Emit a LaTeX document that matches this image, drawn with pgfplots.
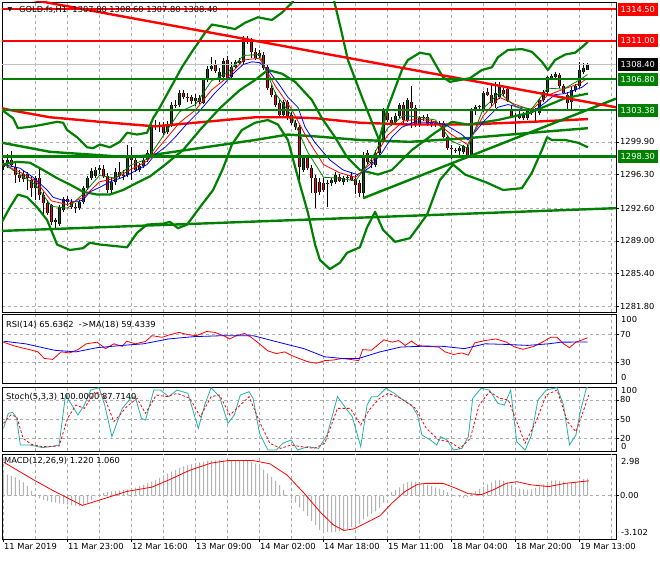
\documentclass[border=0pt]{standalone}
\usepackage{pgfplots}
\pgfplotsset{compat=1.18}
\usepackage{pgfplotstable}
\usepackage{fontspec}
\setmainfont{DejaVu Sans}

\definecolor{mtgreen}{RGB}{0,128,0}
\definecolor{mtred}{RGB}{255,0,0}
\definecolor{mtblue}{RGB}{0,0,255}
\definecolor{mtteal}{RGB}{32,178,170}
\definecolor{gridgray}{RGB}{172,172,172}
\definecolor{histgray}{RGB}{178,178,178}
\definecolor{pricegray}{RGB}{192,192,192}
\definecolor{bullbody}{RGB}{0,100,0}

\newcommand\lbl{\fontsize{8.3}{10}\selectfont}

% GOLD.fs H1 candles: bar index, open, high, low, close
\pgfplotstableread{
i o h l c
0 1297.1 1297.9 1296.8 1297.5
1 1297.5 1298.6 1297.0 1297.9
2 1297.9 1298.9 1297.1 1297.4
3 1297.1 1297.6 1295.4 1296.3
4 1296.3 1296.8 1295.5 1295.9
5 1296.4 1296.8 1295.5 1295.8
6 1295.9 1296.6 1294.6 1296.4
7 1295.7 1296.1 1293.8 1294.8
8 1294.8 1296.1 1293.5 1295.9
9 1295.9 1297.0 1293.5 1294.1
10 1294.1 1294.4 1291.6 1293.2
11 1293.2 1293.5 1291.9 1292.1
12 1293.0 1293.1 1290.8 1291.1
13 1291.1 1291.5 1290.3 1291.3
14 1290.9 1293.0 1290.6 1292.7
15 1292.4 1293.8 1292.2 1293.6
16 1293.6 1293.9 1292.8 1293.3
17 1293.3 1293.6 1292.5 1292.7
18 1292.7 1293.2 1292.1 1292.6
19 1292.6 1293.5 1292.4 1293.3
20 1293.3 1295.0 1293.1 1294.8
21 1294.8 1296.1 1294.6 1295.9
22 1295.9 1297.0 1295.7 1296.7
23 1296.1 1297.1 1295.9 1296.8
24 1296.8 1297.4 1296.4 1297.0
25 1296.9 1297.4 1295.9 1296.1
26 1296.1 1296.5 1294.3 1294.6
27 1294.6 1295.9 1294.3 1295.5
28 1295.5 1297.0 1295.2 1296.6
29 1296.6 1297.7 1295.9 1296.1
30 1296.1 1296.8 1295.7 1296.3
31 1296.3 1299.6 1296.0 1298.3
32 1298.5 1299.3 1295.7 1297.9
33 1297.9 1298.2 1296.6 1296.8
34 1296.8 1297.6 1296.6 1297.2
35 1297.2 1298.2 1297.0 1297.9
36 1297.9 1299.0 1297.7 1298.7
37 1298.5 1302.1 1298.3 1301.8
38 1301.8 1302.3 1301.2 1301.6
39 1301.6 1302.1 1301.0 1301.5
40 1301.6 1302.1 1300.7 1300.9
41 1301.0 1302.2 1300.8 1301.9
42 1301.8 1304.3 1301.5 1304.0
43 1304.0 1304.5 1303.6 1303.9
44 1304.0 1305.6 1303.7 1305.3
45 1305.3 1305.6 1304.6 1304.8
46 1304.8 1305.3 1304.3 1304.7
47 1304.8 1305.1 1304.1 1304.4
48 1304.4 1305.2 1303.8 1304.7
49 1304.7 1305.1 1304.1 1304.3
50 1304.2 1306.9 1304.1 1306.7
51 1306.7 1308.2 1306.5 1307.9
52 1307.9 1309.2 1307.7 1308.2
53 1308.4 1308.9 1307.5 1307.7
54 1306.7 1308.0 1306.5 1307.6
55 1307.0 1309.1 1306.7 1308.8
56 1308.9 1309.3 1306.8 1306.9
57 1307.0 1308.7 1306.8 1308.1
58 1308.1 1308.9 1307.9 1308.7
59 1308.6 1309.1 1308.4 1308.8
60 1308.7 1311.5 1308.5 1311.2
61 1311.1 1311.5 1310.7 1311.2
62 1311.1 1311.3 1309.1 1309.8
63 1309.8 1310.2 1308.9 1309.1
64 1309.7 1310.0 1309.1 1309.3
65 1309.5 1309.8 1307.8 1308.0
66 1308.1 1308.4 1305.6 1305.8
67 1305.8 1306.2 1304.8 1305.1
68 1305.1 1305.4 1303.7 1304.0
69 1304.2 1304.5 1302.6 1302.9
70 1302.9 1304.5 1302.6 1304.3
71 1304.3 1304.5 1302.3 1302.5
72 1302.9 1303.2 1301.8 1302.0
73 1302.0 1302.3 1301.2 1301.5
74 1301.5 1301.8 1295.7 1297.1
75 1296.8 1298.3 1296.6 1298.1
76 1298.1 1298.5 1296.8 1297.0
77 1297.0 1297.4 1294.3 1295.9
78 1295.9 1296.3 1292.6 1294.3
79 1295.5 1295.9 1294.1 1294.4
80 1295.4 1295.9 1294.4 1294.6
81 1295.3 1295.7 1292.7 1295.4
82 1295.4 1295.9 1295.0 1295.7
83 1295.5 1296.6 1295.3 1296.3
84 1296.0 1296.4 1295.5 1295.6
85 1295.5 1296.1 1295.2 1295.9
86 1295.9 1296.3 1295.5 1296.0
87 1296.1 1296.6 1295.6 1295.7
88 1295.8 1296.3 1294.2 1295.2
89 1295.4 1295.7 1293.8 1294.3
90 1294.3 1298.8 1293.7 1298.5
91 1298.7 1299.0 1297.4 1297.7
92 1297.7 1298.1 1297.0 1297.6
93 1297.4 1299.0 1297.1 1298.7
94 1298.7 1300.3 1298.3 1300.1
95 1300.1 1303.6 1299.9 1303.4
96 1303.1 1303.4 1302.1 1302.3
97 1302.3 1302.6 1301.6 1302.0
98 1302.1 1303.1 1301.9 1302.7
99 1302.7 1304.2 1302.5 1304.0
100 1304.0 1304.3 1301.8 1302.3
101 1302.3 1304.7 1302.1 1304.5
102 1304.3 1306.0 1301.4 1303.6
103 1303.6 1304.0 1301.5 1301.8
104 1301.8 1302.7 1301.5 1302.5
105 1302.5 1302.9 1302.2 1302.6
106 1302.6 1303.0 1301.6 1301.8
107 1301.9 1302.3 1301.5 1302.1
108 1302.0 1302.2 1301.5 1301.9
109 1301.9 1302.2 1301.6 1302.0
110 1302.0 1302.2 1300.3 1300.4
111 1300.4 1300.7 1299.0 1299.2
112 1299.2 1299.6 1298.0 1299.1
113 1299.0 1299.2 1298.7 1298.9
114 1298.9 1299.4 1298.5 1299.2
115 1298.8 1299.6 1298.6 1299.4
116 1299.3 1299.6 1298.1 1298.3
117 1298.3 1303.6 1298.1 1303.4
118 1303.3 1304.0 1302.9 1303.7
119 1303.7 1304.0 1303.5 1303.8
120 1303.4 1305.5 1303.2 1305.3
121 1305.4 1305.8 1304.9 1305.1
122 1305.1 1306.2 1303.8 1304.2
123 1304.2 1306.5 1303.6 1305.3
124 1304.8 1306.5 1304.6 1306.2
125 1305.6 1305.8 1304.9 1305.2
126 1305.7 1306.0 1304.3 1304.5
127 1303.4 1304.0 1302.5 1302.6
128 1302.7 1303.1 1300.7 1302.6
129 1303.0 1303.4 1302.4 1302.5
130 1302.5 1303.2 1302.3 1303.0
131 1302.5 1303.6 1302.3 1303.4
132 1303.1 1303.6 1302.9 1303.4
133 1303.3 1303.6 1302.0 1303.4
134 1303.1 1304.7 1302.9 1304.5
135 1304.5 1305.6 1304.3 1305.4
136 1305.4 1307.1 1305.2 1307.0
137 1306.9 1307.4 1306.7 1307.1
138 1307.0 1307.6 1306.8 1307.4
139 1307.3 1307.5 1305.8 1306.0
140 1306.0 1306.3 1305.2 1305.3
141 1305.1 1305.4 1303.4 1304.2
142 1304.3 1306.0 1303.4 1305.6
143 1305.6 1306.3 1305.4 1306.0
144 1306.0 1308.7 1305.8 1307.8
145 1307.6 1308.6 1307.4 1308.0
146 1307.8 1308.6 1307.8 1308.4
}\candles

\pgfplotsset{
  mtpanel/.style={
    scale only axis, width=614pt,
    xmin=-0.375, xmax=153.125,
    axis line style={black, line width=0.8pt},
    xtick={8,16,...,152}, xticklabels={}, xtick style={draw=none},
    xmajorgrids, ymajorgrids,
    grid style={draw=gridgray, line width=0.5pt, dash pattern=on 3pt off 3pt},
    ytick pos=right, yticklabel pos=right, xtick pos=bottom,
    tick align=outside, major tick length=3pt,
    ytick style={black, line width=0.6pt},
    yticklabel style={font=\lbl, inner sep=1pt},
    /pgf/number format/assume math mode=true,
    clip mode=individual,
  },
  candle/.style={draw=none, forget plot,
    error bars/y dir=plus, error bars/y explicit, error bars/error mark=none},
}

\begin{document}
\begin{tikzpicture}
\useasboundingbox (0,0) rectangle (660pt,560pt);
\fill[white] (0,0) rectangle (660pt,560pt);

% ---------------- price panel ----------------
\begin{axis}[mtpanel, at={(2pt,248pt)}, anchor=south west, height=310pt,
  ymin=1281.18, ymax=1315.28,
  ytick={1281.8,1285.4,1289.0,1292.6,1296.3,1299.9},
  yticklabels={1281.80,1285.40,1289.00,1292.60,1296.30,1299.90}]

% wicks
\addplot[candle, error bars/error bar style={draw=black, line width=0.9pt}]
  table[x=i, y=l, y error plus expr={\thisrow{h}-\thisrow{l}}] {\candles};
% bull bodies
\addplot[candle, x filter/.expression={\thisrow{c}<\thisrow{o} ? nan : x},
  error bars/error bar style={draw=black, line width=3.2pt}]
  table[x=i, y=o, y error plus expr={\thisrow{c}-\thisrow{o}}] {\candles};
\addplot[candle, x filter/.expression={\thisrow{c}<\thisrow{o} ? nan : x},
  error bars/error bar style={draw=bullbody, line width=1.5pt}]
  table[x=i, y=o, y error plus expr={\thisrow{c}-\thisrow{o}}] {\candles};
% bear bodies
\addplot[candle, x filter/.expression={\thisrow{c}<\thisrow{o} ? x : nan},
  error bars/error bar style={draw=black, line width=3.2pt}]
  table[x=i, y=c, y error plus expr={\thisrow{o}-\thisrow{c}}] {\candles};
\addplot[candle, x filter/.expression={\thisrow{c}<\thisrow{o} ? x : nan},
  error bars/error bar style={draw=mtred, line width=1.5pt}]
  table[x=i, y=c, y error plus expr={\thisrow{o}-\thisrow{c}}] {\candles};

% current price line
\addplot[pricegray, line width=0.8pt] coordinates {(-0.375,1308.4) (153.125,1308.4)};

% slow moving averages
\addplot[mtred, line width=2.4pt] coordinates {
(-0.375,1303.6) (1.6,1303.4) (11.6,1302.6) (24.1,1302.1) (37.9,1301.6) (50.4,1302.1)
(62.9,1302.6) (71.1,1302.6) (77.9,1302.5) (89.1,1302.0) (101.6,1301.8) (115.9,1301.8)
(132.1,1302.1) (146.1,1302.4)};
\addplot[mtgreen, line width=2.4pt] coordinates {
(-0.375,1299.8) (11.6,1298.8) (21.6,1298.5) (31.6,1298.2) (37.9,1298.5) (50.4,1299.3)
(62.9,1300.1) (71.1,1300.7) (77.9,1300.5) (89.1,1300.1) (101.6,1299.9) (115.9,1300.3)
(132.1,1300.9) (146.1,1301.4)};

% Bollinger bands
\addplot[mtgreen, line width=2.2pt, line join=round] coordinates {
(-0.375,1303.4) (2.4,1302.5) (3.6,1301.4) (7.4,1301.6) (9.9,1301.8) (13.4,1302.1)
(14.9,1302.0) (15.9,1301.2) (18.4,1300.4) (20.9,1299.3) (22.4,1299.2) (24.1,1299.6)
(26.6,1299.3) (29.1,1299.9) (30.9,1300.9) (33.4,1300.7) (35.9,1300.9) (37.4,1302.5)
(39.1,1303.7) (41.1,1305.3) (44.6,1308.1) (47.1,1309.8) (50.4,1311.9) (52.1,1312.8)
(54.6,1312.6) (57.9,1312.3) (60.4,1313.0) (63.6,1313.6) (67.1,1313.3) (69.6,1314.1)
(72.1,1315.2) (74.1,1316.6) (77.1,1317.9) (80.1,1317.5) (82.6,1315.5) (84.4,1312.2)
(86.1,1308.9) (89.9,1304.5) (93.9,1300.1) (96.1,1303.7) (99.6,1307.8) (101.1,1308.9)
(104.1,1309.7) (106.6,1309.5) (108.4,1308.1) (109.9,1307.0) (111.6,1306.5) (114.1,1306.7)
(116.6,1306.9) (119.6,1307.8) (122.1,1308.1) (123.6,1309.2) (126.1,1310.0) (129.6,1310.1)
(132.1,1309.8) (134.6,1308.7) (136.1,1307.8) (137.9,1308.9) (140.4,1309.5) (142.9,1309.7)
(144.6,1310.3) (146.1,1310.9)};
\addplot[mtgreen, line width=2.2pt, line join=round] coordinates {
(-0.375,1297.4) (3.4,1297.7) (6.6,1297.6) (9.9,1296.8) (13.4,1295.9) (16.6,1295.2)
(19.9,1294.4) (23.4,1294.1) (26.6,1294.1) (29.9,1294.6) (33.4,1295.4) (36.6,1296.1)
(39.9,1297.2) (44.9,1299.0) (49.1,1301.2) (54.1,1303.6) (59.1,1305.6) (62.9,1306.7)
(66.1,1307.8) (69.6,1307.4) (72.9,1306.5) (77.1,1304.5) (79.6,1302.5) (82.9,1300.4)
(85.9,1298.2) (89.1,1296.8) (93.6,1296.3) (97.1,1296.8) (102.1,1299.0) (107.9,1300.9)
(112.1,1302.1) (116.1,1301.8) (123.6,1302.3) (131.6,1303.1) (140.4,1304.7) (146.1,1305.2)};
\addplot[mtgreen, line width=2.2pt, line join=round] coordinates {
(-0.375,1291.1) (1.6,1292.7) (3.6,1294.1) (5.9,1293.8) (8.4,1292.7) (10.9,1291.3)
(13.4,1288.6) (16.6,1288.0) (19.9,1288.2) (21.6,1288.8) (24.1,1288.6) (30.9,1288.3)
(33.4,1289.9) (35.9,1290.8) (39.9,1290.9) (41.6,1291.1) (43.6,1290.4) (45.9,1290.8)
(49.1,1292.7) (52.4,1294.6) (54.9,1297.0) (57.1,1299.6) (59.6,1301.2) (62.9,1302.0)
(66.1,1302.3) (68.6,1301.8) (71.1,1300.1) (73.6,1296.0) (76.1,1292.1) (77.9,1288.6)
(79.1,1286.9) (81.6,1285.9) (84.1,1286.6) (85.9,1287.7) (89.1,1288.3) (90.9,1290.5)
(92.9,1292.2) (94.9,1290.2) (97.9,1288.9) (101.6,1289.3) (105.9,1291.9) (109.1,1295.7)
(112.4,1297.4) (115.4,1296.3) (120.9,1295.4) (124.9,1294.6) (129.6,1294.8) (132.1,1296.5)
(134.6,1299.0) (135.9,1300.4) (137.1,1300.1) (140.4,1300.1) (143.6,1299.8) (146.1,1299.3)};

% fast moving averages
\addplot[mtblue, line width=0.8pt] coordinates {
(0,1297.4) (4.1,1297.0) (7.4,1296.0) (10.9,1294.6) (12.4,1293.8) (14.6,1293.5)
(18.4,1293.3) (19.9,1293.5) (21.6,1294.4) (24.1,1294.9) (26.6,1295.5) (29.9,1296.0)
(33.4,1296.8) (35.9,1297.4) (37.9,1298.5) (40.4,1299.3) (42.9,1300.4) (46.1,1302.0)
(48.6,1303.1) (50.4,1304.0) (52.9,1305.3) (55.4,1306.4) (57.9,1307.6) (59.9,1308.4)
(62.1,1308.7) (64.1,1308.6) (66.1,1307.8) (68.6,1306.4) (71.1,1304.8) (73.6,1303.7)
(75.4,1301.5) (77.9,1299.8) (81.6,1297.9) (84.9,1296.8) (88.4,1296.3) (89.9,1296.6)
(91.6,1297.1) (94.6,1298.7) (97.1,1300.4) (99.6,1301.5) (102.9,1302.1) (107.9,1302.0)
(110.4,1301.8) (114.6,1300.7) (116.1,1300.1) (117.9,1301.0) (120.4,1302.3) (123.6,1303.7)
(126.1,1304.0) (127.9,1303.8) (130.4,1303.4) (132.9,1303.4) (135.4,1304.2) (137.9,1305.1)
(140.4,1305.2) (142.9,1305.6) (144.6,1305.9) (146.1,1306.4)};
\addplot[mtred, line width=0.8pt] coordinates {
(0,1297.4) (4,1296.6) (8,1295.6) (12,1293.4) (16,1293.0) (20,1293.8) (24,1295.5)
(28,1295.9) (32,1296.9) (36,1297.8) (40,1299.9) (44,1302.0) (48,1303.4) (52,1305.6)
(56,1307.0) (60,1308.9) (64,1309.1) (68,1306.0) (72,1303.5) (76,1300.2) (80,1297.4)
(84,1296.5) (88,1296.0) (92,1297.6) (96,1300.6) (100,1302.2) (104,1302.4) (108,1302.1)
(112,1300.7) (116,1299.6) (120,1302.8) (124,1304.8) (128,1304.0) (132,1303.4)
(136,1305.0) (140,1305.7) (144,1306.3) (146,1306.9)};
\addplot[mtgreen, line width=0.8pt] coordinates {
(0,1297.5) (4,1296.3) (8,1295.2) (12,1292.8) (16,1292.6) (20,1294.2) (24,1296.2)
(28,1295.9) (32,1297.4) (36,1298.0) (40,1300.6) (44,1303.2) (48,1304.0) (52,1306.6)
(56,1307.5) (60,1309.4) (64,1309.5) (68,1305.2) (72,1302.8) (76,1298.8) (80,1296.0)
(84,1295.9) (88,1295.6) (92,1298.0) (96,1301.4) (100,1302.8) (104,1302.6) (108,1302.3)
(112,1300.0) (116,1299.2) (120,1303.6) (124,1305.3) (128,1303.8) (132,1303.5)
(136,1305.8) (140,1305.7) (144,1306.7) (146,1307.3)};

% trend lines and levels
\addplot[mtgreen, line width=2.4pt] coordinates {(-0.375,1290.1) (153.125,1292.6)};
\addplot[mtgreen, line width=2.4pt] coordinates {(89.9,1293.7) (153.125,1304.65)};
\addplot[mtred, line width=2.4pt] coordinates {(5,1315.7) (153.125,1303.7)};
\addplot[mtred, line width=2.4pt] coordinates {(-0.375,1314.5) (153.125,1314.5)};
\addplot[mtred, line width=2.4pt] coordinates {(-0.375,1311.0) (153.125,1311.0)};
\addplot[mtgreen, line width=2.6pt] coordinates {(-0.375,1306.8) (153.125,1306.8)};
\addplot[mtgreen, line width=2.6pt] coordinates {(-0.375,1303.38) (153.125,1303.38)};
\addplot[mtgreen, line width=2.6pt] coordinates {(-0.375,1298.3) (153.125,1298.3)};

% level labels on the price scale
\tikzset{lvl/.style={anchor=west, font=\lbl, text=white, inner xsep=2.5pt,
  minimum height=12pt, xshift=2pt}}
\node[lvl, fill=mtred] at (axis cs:153.125,1314.5) {1314.50};
\node[lvl, fill=mtred] at (axis cs:153.125,1311.0) {1311.00};
\node[lvl, fill=black] at (axis cs:153.125,1308.4) {1308.40};
\node[lvl, fill=mtgreen] at (axis cs:153.125,1306.8) {1306.80};
\node[lvl, fill=mtgreen] at (axis cs:153.125,1303.38) {1303.38};
\node[lvl, fill=mtgreen] at (axis cs:153.125,1298.3) {1298.30};
\end{axis}

% ---------------- RSI panel ----------------
\begin{axis}[mtpanel, at={(2pt,177pt)}, anchor=south west, height=69pt,
  ymin=0, ymax=100, ytick={30,70}, yticklabels={30,70}]
\addplot[mtred, line width=0.8pt] coordinates {
(0,59.2) (2.3,54.5) (4.4,51.2) (6.5,48.4) (8.6,45.1) (10.2,35.6) (12.3,34.2) (14.4,45.1)
(16.5,43.6) (18.6,48.4) (20.7,56.8) (23.4,59.2) (25.5,49.8) (27.6,56.8) (29.7,53.1)
(30.8,60.6) (32.9,56.8) (35.5,60.1) (37.1,68.6) (39.7,66.2) (41.3,69.5) (43.9,73.3)
(46.1,70.0) (48.2,68.6) (50.8,74.7) (52.9,73.3) (55.0,68.6) (56.6,63.9) (58.2,68.6)
(60.3,71.9) (61.9,66.2) (64.0,56.8) (66.1,46.5) (68.2,42.7) (70.3,45.1) (72.4,38.9)
(74.5,34.2) (76.1,30.9) (78.2,28.6) (80.3,32.4) (82.5,33.3) (84.6,35.6) (86.7,34.2)
(88.8,32.4) (89.8,48.4) (92.0,47.5) (95.1,62.5) (97.2,59.2) (98.8,61.5) (100.4,54.5)
(102.0,60.6) (103.5,54.5) (105.7,53.1) (108.8,52.1) (110.4,45.1) (112.5,41.3)
(114.6,43.6) (116.2,40.4) (117.8,58.2) (120.4,61.5) (123.1,63.9) (125.7,59.2)
(127.8,52.1) (129.9,48.8) (132.6,53.1) (134.7,59.2) (136.8,66.2) (138.4,66.2)
(140.0,56.8) (141.5,51.2) (143.1,59.2) (144.7,62.5) (146.0,65.6)};
\addplot[mtblue, line width=0.8pt] coordinates {
(0,60.6) (5.5,56.8) (12.8,47.4) (18.1,45.1) (23.4,51.2) (29.7,54.5) (35.0,56.8)
(41.3,63.9) (47.6,67.2) (55.0,68.6) (62.4,68.6) (68.7,59.2) (75.1,49.8) (80.3,38.0)
(84.6,35.6) (88.8,35.6) (94.1,45.1) (99.3,52.1) (105.7,53.5) (109.9,53.1) (115.2,49.8)
(120.4,56.8) (125.7,55.9) (131.0,54.5) (136.3,56.8) (139.4,59.2) (146.0,59.4)};
\end{axis}

% ---------------- Stochastic panel ----------------
\begin{axis}[mtpanel, at={(2pt,109pt)}, anchor=south west, height=64pt,
  ymin=0, ymax=100, ytick={20,50,80}, yticklabels={20,50,80}]
\addplot[mtteal, line width=0.8pt] coordinates {
(0,35.4) (1.2,58.8) (2.3,60.4) (3.3,51.0) (4.2,9.4) (6.5,9.4) (8.6,6.8) (9.7,5.2)
(11.8,6.8) (13.9,9.4) (15.5,87.5) (17.1,71.8) (18.6,56.2) (20.2,71.8) (21.8,95.3)
(23.9,98.9) (25.3,71.8) (27.1,22.4) (29.7,66.6) (31.8,82.3) (32.9,84.9) (34.5,51.0)
(35.5,48.4) (37.6,95.3) (39.2,95.3) (41.3,84.9) (43.4,95.3) (46.1,90.1) (48.7,35.4)
(50.3,71.8) (51.9,98.9) (54.0,84.9) (56.1,43.2) (57.7,56.2) (59.2,87.5) (61.4,92.7)
(62.4,82.3) (64.0,27.6) (66.1,1.5) (68.2,1.5) (69.8,12.0) (71.9,17.2) (73.5,1.5)
(76.1,6.8) (78.8,4.1) (80.9,25.0) (83.5,84.9) (85.6,66.6) (87.2,53.6) (89.3,6.8)
(90.9,71.8) (92.0,84.9) (93.5,84.9) (95.6,97.9) (97.7,90.1) (99.9,79.7) (102.0,71.8)
(103.5,56.2) (104.6,25.0) (106.7,17.2) (108.3,9.4) (109.3,22.4) (110.9,17.2)
(112.5,1.5) (114.6,4.1) (116.2,22.4) (117.3,82.3) (119.4,97.9) (121.5,95.3)
(123.6,74.4) (125.2,71.8) (126.8,95.3) (128.3,14.6) (130.4,1.5) (132.0,25.0)
(133.6,79.7) (135.7,95.3) (138.4,98.9) (140.0,71.8) (141.5,9.4) (143.1,25.0)
(144.2,61.4) (145.7,97.9) (146.0,100.0)};
\addplot[mtred, line width=0.8pt, dash pattern=on 2.5pt off 2pt] coordinates {
(0,43.2) (1.8,56.2) (3.3,53.6) (4.9,19.8) (7.0,10.4) (9.7,6.8) (13.9,7.8) (16.0,51.0)
(18.1,71.8) (20.2,66.6) (22.9,92.7) (25.0,87.5) (27.6,45.8) (30.8,69.2) (33.4,82.3)
(35.5,58.8) (38.2,87.5) (40.8,84.9) (43.4,90.1) (46.6,82.3) (49.2,53.6) (51.9,84.9)
(54.0,87.5) (56.6,56.2) (59.2,71.8) (61.4,84.9) (64.0,45.8) (66.6,12.0) (69.3,4.1)
(71.9,9.4) (74.5,6.8) (77.7,4.1) (80.3,12.0) (83.5,66.6) (86.7,66.6) (89.3,40.6)
(91.4,64.0) (94.0,82.3) (96.2,90.1) (99.3,82.3) (103.0,66.6) (105.7,35.4) (108.8,17.2)
(111.5,14.6) (114.1,4.1) (116.7,19.8) (118.9,71.8) (121.5,92.7) (124.1,82.3)
(126.2,79.7) (128.3,45.8) (130.4,12.0) (133.1,45.8) (135.7,87.5) (138.4,95.3)
(141.0,45.8) (143.1,30.2) (145.2,66.6) (146.3,87.7)};
\end{axis}

% ---------------- MACD panel ----------------
\begin{axis}[mtpanel, at={(2pt,21pt)}, anchor=south west, height=85pt,
  ymin=-3.102, ymax=2.98, ytick={0}, yticklabels={0.00},
  xtick={0,16,...,144},
  xticklabels={11 Mar 2019,11 Mar 23:00,12 Mar 16:00,13 Mar 09:00,14 Mar 02:00,
    14 Mar 18:00,15 Mar 11:00,18 Mar 04:00,18 Mar 20:00,19 Mar 13:00},
  xtick style={draw=black, line width=0.6pt},
  xticklabel style={font=\lbl, anchor=north west, inner sep=1pt, xshift=-0.5pt},
  extra x ticks={8,24,...,152}, extra x tick labels={},
  extra x tick style={grid=major, major tick length=0pt}]
\addplot[ybar, bar width=1pt, fill=histgray, draw=none] coordinates {
(0,1.58) (1,1.50) (2,1.42) (3,1.30) (4,1.15) (5,0.95) (6,0.70) (7,0.35) (8,-0.05)
(9,-0.20) (10,-0.30) (11,-0.38) (12,-0.45) (13,-0.50) (14,-0.55) (15,-0.60) (16,-0.65)
(17,-0.70) (18,-0.72) (19,-0.75) (20,-0.65) (21,-0.50) (22,-0.30) (23,-0.05) (24,0.15)
(25,0.20) (26,0.25) (27,0.30) (28,0.35) (29,0.38) (30,0.42) (31,0.45) (32,0.50)
(33,0.58) (34,0.68) (35,0.78) (36,0.88) (37,1.00) (38,1.12) (39,1.28) (40,1.45)
(41,1.58) (42,1.72) (43,1.85) (44,1.98) (45,2.10) (46,2.18) (47,2.25) (48,2.32)
(49,2.38) (50,2.44) (51,2.50) (52,2.52) (53,2.53) (54,2.54) (55,2.52) (56,2.51)
(57,2.50) (58,2.50) (59,2.48) (60,2.50) (61,2.48) (62,2.40) (63,2.30) (64,2.10)
(65,1.85) (66,1.60) (67,1.35) (68,1.05) (69,0.75) (70,0.40) (71,0.05) (72,-0.25)
(73,-0.50) (74,-0.85) (75,-1.10) (76,-1.45) (77,-1.80) (78,-2.10) (79,-2.45) (80,-2.55)
(81,-2.60) (82,-2.62) (83,-2.60) (84,-2.55) (85,-2.50) (86,-2.40) (87,-2.25) (88,-2.10)
(89,-2.00) (90,-1.70) (91,-1.50) (92,-1.33) (93,-1.10) (94,-0.86) (95,-0.50) (96,0.05)
(97,0.25) (98,0.40) (99,0.60) (100,0.85) (101,0.95) (102,1.00) (103,1.00) (104,0.90)
(105,0.85) (106,0.78) (107,0.70) (108,0.60) (109,0.50) (110,0.40) (111,0.25) (112,0.10)
(113,-0.05) (114,-0.12) (115,-0.16) (116,-0.10) (117,0.20) (118,0.35) (119,0.48)
(120,0.65) (121,0.80) (122,0.95) (123,1.10) (124,1.12) (125,1.05) (126,0.95) (127,0.75)
(128,0.60) (129,0.50) (130,0.45) (131,0.42) (132,0.45) (133,0.55) (134,0.65) (135,0.80)
(136,0.95) (137,1.07) (138,1.10) (139,1.05) (140,1.00) (141,0.90) (142,0.95) (143,1.00)
(144,1.10) (145,1.18) (146,1.22)};
\addplot[mtred, line width=0.8pt] coordinates {
(0,2.40) (7.6,1.12) (12.8,0.30) (19.7,-0.70) (24.4,-0.28) (30.8,0.30) (37.1,0.61)
(41.3,1.12) (46.6,1.82) (51.9,2.33) (56.1,2.51) (62.4,2.51) (66.6,2.28) (70.9,1.47)
(75.1,0.19) (79.3,-1.21) (82.5,-2.10) (85.1,-2.49) (87.7,-2.37) (90.9,-1.91) (94.1,-1.44)
(97.2,-0.51) (100.4,0.30) (103.5,0.81) (105.7,0.88) (109.9,0.88) (113.0,0.54)
(116.2,0.14) (119.4,0.07) (122.5,0.42) (125.7,0.88) (128.3,1.00) (132.0,0.77)
(136.3,0.65) (140.5,0.88) (146.3,1.06)};
\end{axis}

% ---------------- texts ----------------
\node[anchor=center, font=\fontsize{6}{6}\selectfont] at (10pt,550pt) {▼};
\node[anchor=west, font=\lbl, inner sep=0pt] at (19pt,550pt) {GOLD.fs,H1\ \ 1307.80 1308.60 1307.80 1308.40};
\node[anchor=west, font=\lbl, inner sep=0pt] at (6pt,235pt) {RSI(14) 65.6362\ \ ->MA(18) 59.4339};
\node[anchor=west, font=\lbl, inner sep=0pt] at (6pt,163pt) {Stoch(5,3,3) 100.0000 87.7140};
\node[anchor=west, font=\lbl, inner sep=0pt] at (4pt,99pt) {MACD(12,26,9) 1.220 1.060};
\node[anchor=west, font=\lbl, inner sep=0pt] at (621pt,241pt) {100};
\node[anchor=west, font=\lbl, inner sep=0pt] at (621pt,183pt) {0};
\node[anchor=west, font=\lbl, inner sep=0pt] at (621pt,170pt) {100};
\node[anchor=west, font=\lbl, inner sep=0pt] at (621pt,114pt) {0};
\node[anchor=west, font=\lbl, inner sep=0pt] at (621pt,99pt) {2.98};
\node[anchor=west, font=\lbl, inner sep=0pt] at (621pt,28pt) {-3.102};
\end{tikzpicture}
\end{document}
